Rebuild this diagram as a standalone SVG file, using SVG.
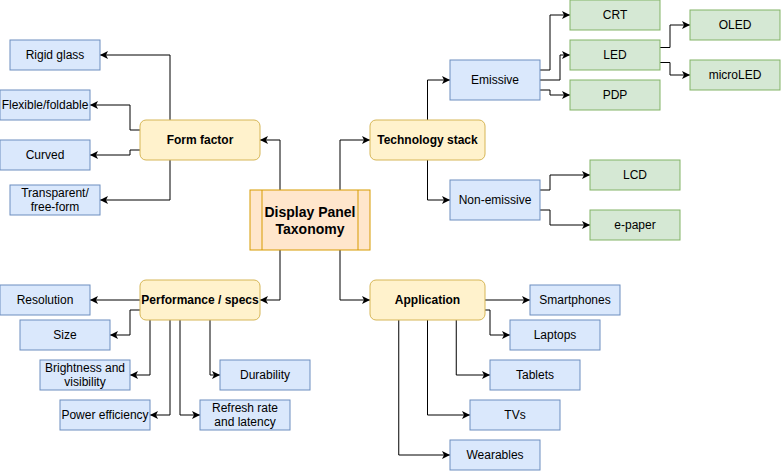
<svg xmlns="http://www.w3.org/2000/svg" width="781" height="471" viewBox="0 0 781 471">
<defs>
<style>
.y{fill:#fff2cc;stroke:#d6b656;stroke-width:1}
.b{fill:#dae8fc;stroke:#6c8ebf;stroke-width:1}
.g{fill:#d5e8d4;stroke:#82b366;stroke-width:1}
.c{fill:#ffe6cc;stroke:#d79b00;stroke-width:1}
text{font-family:"Liberation Sans",Arial,Helvetica,sans-serif;font-size:12px;text-anchor:middle;fill:#000}
.bold{font-weight:bold}
.big{font-size:14px;font-weight:bold}
.e path{fill:none;stroke:#000;stroke-width:1;marker-end:url(#a)}
</style>
<marker id="a" markerUnits="userSpaceOnUse" markerWidth="10" markerHeight="10" viewBox="-9 -5 10 10" refX="0" refY="0" orient="auto">
<path d="M0,0 L-8,-4 L-6,0 L-8,4 Z" fill="#000" stroke="none"/>
</marker>
</defs>
<rect width="781" height="471" fill="#fff"/>
<g id="connectors" class="e">
<path d="M280,190 V140 H260"/>
<path d="M340,190 V140 H370"/>
<path d="M280,250 V300 H260"/>
<path d="M340,250 V300 H370"/>
<path d="M170,120 V55 H100"/>
<path d="M140,130 H130 V105 H90"/>
<path d="M140,150 H130 V155 H90"/>
<path d="M170,160 V200 H100"/>
<path d="M140,300 H90"/>
<path d="M140,310 H130 V335 H110"/>
<path d="M150,320 V375 H130"/>
<path d="M170,320 V415 H150"/>
<path d="M180,320 V415 H200"/>
<path d="M210,320 V375 H220"/>
<path d="M427.5,120 V80 H450"/>
<path d="M427.5,160 V200 H450"/>
<path d="M540,70 H550 V15 H570"/>
<path d="M540,80 H560 V55 H570"/>
<path d="M540,90 H550 V95 H570"/>
<path d="M660,47.5 H670 V25 H690"/>
<path d="M660,62.5 H670 V75 H690"/>
<path d="M540,190 H550 V175 H590"/>
<path d="M540,210 H550 V225 H590"/>
<path d="M485,300 H530"/>
<path d="M485,310 H490 V335 H510"/>
<path d="M456.25,320 V375 H490"/>
<path d="M427.5,320 V415 H470"/>
<path d="M398.75,320 V455 H450"/>
</g>
<g id="center">
<rect class="c" x="250" y="190" width="120" height="60"/>
<line class="c" x1="262" y1="190" x2="262" y2="250"/>
<line class="c" x1="358" y1="190" x2="358" y2="250"/>
<text class="big" x="310" y="216.5">Display Panel</text>
<text class="big" x="310" y="233.5">Taxonomy</text>
</g>
<g id="form-factor"><rect class="y" x="140" y="120" width="120" height="40" rx="6"/><text class="bold" x="200" y="144">Form factor</text></g>
<g id="technology-stack"><rect class="y" x="370" y="120" width="115" height="40" rx="6"/><text class="bold" x="427.5" y="144">Technology stack</text></g>
<g id="performance"><rect class="y" x="140" y="280" width="120" height="40" rx="6"/><text class="bold" x="200" y="304">Performance / specs</text></g>
<g id="application"><rect class="y" x="370" y="280" width="115" height="40" rx="6"/><text class="bold" x="427.5" y="304">Application</text></g>
<g id="rigid-glass"><rect class="b" x="10" y="40" width="90" height="30"/><text x="55" y="59">Rigid glass</text></g>
<g id="flexible"><rect class="b" x="0" y="90" width="90" height="30"/><text x="45" y="109">Flexible/foldable</text></g>
<g id="curved"><rect class="b" x="0" y="140" width="90" height="30"/><text x="45" y="159">Curved</text></g>
<g id="transparent"><rect class="b" x="10" y="185" width="90" height="30"/><text x="55" y="197">Transparent/</text><text x="55" y="211">free-form</text></g>
<g id="resolution"><rect class="b" x="0" y="285" width="90" height="30"/><text x="45" y="304">Resolution</text></g>
<g id="size"><rect class="b" x="20" y="320" width="90" height="30"/><text x="65" y="339">Size</text></g>
<g id="brightness"><rect class="b" x="40" y="360" width="90" height="30"/><text x="85" y="372">Brightness and</text><text x="85" y="386">visibility</text></g>
<g id="power"><rect class="b" x="60" y="400" width="90" height="30"/><text x="105" y="419">Power efficiency</text></g>
<g id="refresh"><rect class="b" x="200" y="400" width="90" height="30"/><text x="245" y="412">Refresh rate</text><text x="245" y="426">and latency</text></g>
<g id="durability"><rect class="b" x="220" y="360" width="90" height="30"/><text x="265" y="379">Durability</text></g>
<g id="emissive"><rect class="b" x="450" y="60" width="90" height="40"/><text x="495" y="84">Emissive</text></g>
<g id="non-emissive"><rect class="b" x="450" y="180" width="90" height="40"/><text x="495" y="204">Non-emissive</text></g>
<g id="crt"><rect class="g" x="570" y="0" width="90" height="30"/><text x="615" y="19">CRT</text></g>
<g id="led"><rect class="g" x="570" y="40" width="90" height="30"/><text x="615" y="59">LED</text></g>
<g id="pdp"><rect class="g" x="570" y="80" width="90" height="30"/><text x="615" y="99">PDP</text></g>
<g id="oled"><rect class="g" x="690" y="10" width="90" height="30"/><text x="735" y="29">OLED</text></g>
<g id="microled"><rect class="g" x="690" y="60" width="90" height="30"/><text x="735" y="79">microLED</text></g>
<g id="lcd"><rect class="g" x="590" y="160" width="90" height="30"/><text x="635" y="179">LCD</text></g>
<g id="epaper"><rect class="g" x="590" y="210" width="90" height="30"/><text x="635" y="229">e-paper</text></g>
<g id="smartphones"><rect class="b" x="530" y="285" width="90" height="30"/><text x="575" y="304">Smartphones</text></g>
<g id="laptops"><rect class="b" x="510" y="320" width="90" height="30"/><text x="555" y="339">Laptops</text></g>
<g id="tablets"><rect class="b" x="490" y="360" width="90" height="30"/><text x="535" y="379">Tablets</text></g>
<g id="tvs"><rect class="b" x="470" y="400" width="90" height="30"/><text x="515" y="419">TVs</text></g>
<g id="wearables"><rect class="b" x="450" y="440" width="90" height="30"/><text x="495" y="459">Wearables</text></g>
</svg>
